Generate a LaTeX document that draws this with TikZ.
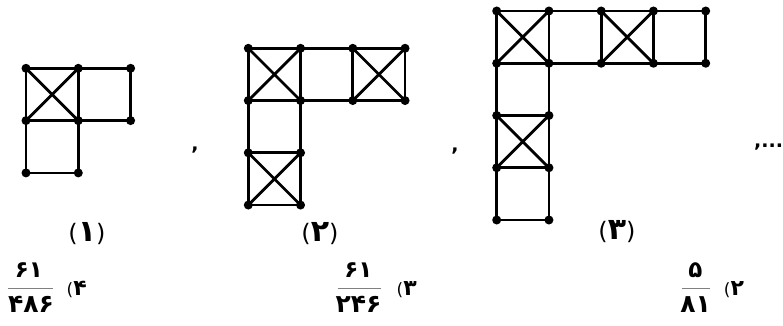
\documentclass[tikz,border=0pt]{standalone}
\usepackage{fontspec}
\newfontfamily\fa{DejaVu Sans}
\newcommand\fp[1]{{\fontsize{24}{24}\selectfont\mdseries #1}}
\newcommand\fd[1]{{\fontsize{30}{30}\selectfont\bfseries #1}}
\newcommand\figlab[1]{\fp{(}\fd{#1}\fp{)}}
\newcommand\op[1]{{\fontsize{17}{17}\selectfont\mdseries (}{\fontsize{22}{22}\selectfont\bfseries #1}}
\begin{document}
\begin{tikzpicture}[x=1pt,y=-1pt,
  edge/.style={line width=2.8pt,line cap=round,line join=round},
  dot/.style={circle,fill=black,inner sep=0pt,minimum size=9pt},
  lbl/.style={font=\fa,inner sep=0pt,anchor=base},
  num/.style={font=\fa\fontsize{23}{23}\selectfont\bfseries,inner sep=0pt,anchor=base},
  den/.style={font=\fa\fontsize{25}{25}\selectfont\bfseries,inner sep=0pt,anchor=base},
  bar/.style={line width=1.2pt,gray},
  sep/.style={font=\fa\fontsize{19}{19}\selectfont\bfseries,inner sep=0pt}]
\useasboundingbox (0,0) rectangle (783,326);
% ---------- figure 1
\foreach \i in {0,1,2} \foreach \j in {0,1,2}
  \coordinate (a-\i-\j) at ({26+52.3*\i},{68.3+52.3*\j});
\foreach \i/\j/\k/\l in {0/0/1/1,1/0/2/1,0/1/1/2}
  \draw[edge] (a-\i-\j) rectangle (a-\k-\l);
\draw[edge] (a-0-0) -- (a-1-1) (a-1-0) -- (a-0-1);
\foreach \p in {0-0,1-0,2-0,0-1,1-1,2-1,0-2,1-2}
  \node[dot] (da-\p) at (a-\p) {};
\node[lbl] (l1) at (87,241) {\figlab{۱}};
\node[sep] (c1) at (195,150) {,};
% ---------- figure 2
\foreach \i in {0,1,2,3} \foreach \j in {0,1,2,3}
  \coordinate (b-\i-\j) at ({248.3+52.25*\i},{48.3+52.25*\j});
\foreach \i/\j/\k/\l in {0/0/1/1,1/0/2/1,2/0/3/1,0/1/1/2,0/2/1/3}
  \draw[edge] (b-\i-\j) rectangle (b-\k-\l);
\foreach \i/\j in {0/0,2/0,0/2}{
  \pgfmathtruncatemacro\ii{\i+1}\pgfmathtruncatemacro\jj{\j+1}
  \draw[edge] (b-\i-\j) -- (b-\ii-\jj) (b-\ii-\j) -- (b-\i-\jj);}
\foreach \p in {0-0,1-0,2-0,3-0,0-1,1-1,2-1,3-1,0-2,1-2,0-3,1-3}
  \node[dot] (db-\p) at (b-\p) {};
\node[lbl] (l2) at (320,241) {\figlab{۲}};
\node[sep] (c2) at (455,151) {,};
% ---------- figure 3
\foreach \i in {0,1,2,3,4} \foreach \j in {0,1,2,3,4}
  \coordinate (c-\i-\j) at ({496.7+52.25*\i},{11+52.25*\j});
\foreach \i/\j/\k/\l in {0/0/1/1,1/0/2/1,2/0/3/1,3/0/4/1,0/1/1/2,0/2/1/3,0/3/1/4}
  \draw[edge] (c-\i-\j) rectangle (c-\k-\l);
\foreach \i/\j in {0/0,2/0,0/2}{
  \pgfmathtruncatemacro\ii{\i+1}\pgfmathtruncatemacro\jj{\j+1}
  \draw[edge] (c-\i-\j) -- (c-\ii-\jj) (c-\ii-\j) -- (c-\i-\jj);}
\foreach \p in {0-0,1-0,2-0,3-0,4-0,0-1,1-1,2-1,3-1,4-1,0-2,1-2,0-3,1-3,0-4,1-4}
  \node[dot] (dc-\p) at (c-\p) {};
\node[lbl] (l3) at (617,239) {\figlab{۳}};
\node[sep,anchor=west] (c3) at (754,147) {,...};
% ---------- answer choices
\node[num] (n4) at (29,277) {۶۱};
\node[den] (d4) at (31,312) {۴۸۶};
\coordinate (b4l) at (7.5,288.5); \coordinate (b4r) at (52.5,288.5);
\draw[bar] (b4l) -- (b4r);
\node[lbl] (o4) at (76.7,295.5) {\op{۴}};
\node[num] (n3) at (358.5,277) {۶۱};
\node[den] (d3) at (358.5,312) {۲۴۶};
\coordinate (b3l) at (337.5,288.5); \coordinate (b3r) at (381,288.5);
\draw[bar] (b3l) -- (b3r);
\node[lbl] (o3) at (406.7,295.5) {\op{۳}};
\node[num] (n2) at (695.5,277) {۵};
\node[den] (d2) at (695.5,312) {۸۱};
\coordinate (b2l) at (682,288.5); \coordinate (b2r) at (710,288.5);
\draw[bar] (b2l) -- (b2r);
\node[lbl] (o2) at (734,295.5) {\op{۲}};
\end{tikzpicture}
\end{document}
